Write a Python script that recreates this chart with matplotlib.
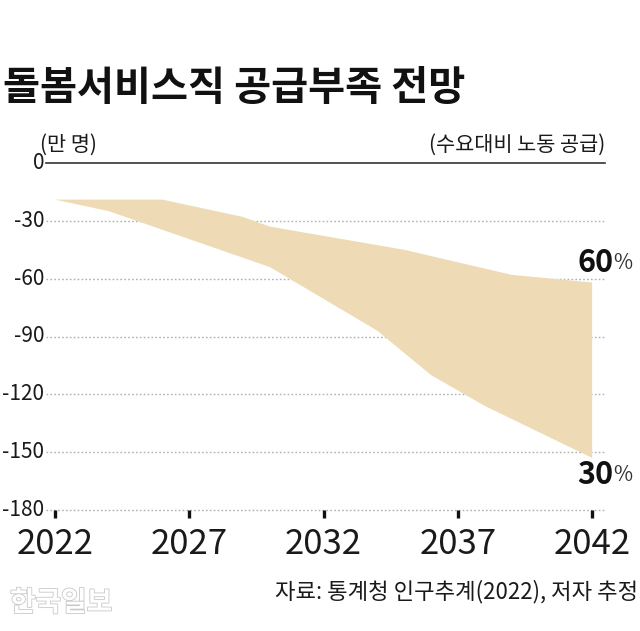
import matplotlib.pyplot as plt
import matplotlib.patheffects as pe

plt.rcParams['font.family'] = ['Noto Sans CJK KR', 'DejaVu Sans']

# 돌봄서비스직 공급부족 (만 명) - 수요대비 노동 공급 60% / 30%
years_60 = [2022, 2026, 2029, 2030, 2035, 2039, 2042]
short_60 = [-19, -19, -28, -33, -45, -58, -62]
years_30 = [2022, 2024, 2030, 2034, 2036, 2038, 2042]
short_30 = [-19, -25, -54, -87, -110, -126, -153]

x_ticks = [2022, 2027, 2032, 2037, 2042]
y_ticks = [0, -30, -60, -90, -120, -150, -180]

fill_color = '#eedbb6'

fig = plt.figure(figsize=(6.4, 6.31), dpi=100)
ax = fig.add_axes([46 / 640, 1 - 510 / 631, (605 - 46) / 640, (510 - 163) / 631])

# polygon: upper edge forward, lower edge back
poly_x = years_60 + years_30[::-1]
poly_y = short_60 + short_30[::-1]
ax.fill(poly_x, poly_y, color=fill_color, lw=0, zorder=2)

ax.set_xlim(2021.66, 2042.48)
ax.set_ylim(-180, 0)

for v in y_ticks[1:]:
    ax.axhline(v, color='#b0b0b0', lw=1, ls=(0, (1.2, 1.6)), zorder=1, clip_on=False)
ax.axhline(0, color='#333333', lw=1.2, zorder=3, clip_on=False)

for s in ax.spines.values():
    s.set_visible(False)

ax.set_xticks(x_ticks)
ax.set_xticklabels([str(y) for y in x_ticks], fontsize=25, fontweight='light', color='#1a1a1a')
ax.tick_params(axis='x', length=6, width=2.4, color='#111111', pad=6)
ax.set_yticks([])

for v in y_ticks:
    ax.text(2021.6, v, str(v), ha='right', va='center', fontsize=15,
            fontweight='light', color='#1a1a1a')

ax.text(2021.45, 4, '(만 명)', ha='left', va='bottom', fontsize=15,
        fontweight='light', color='#1a1a1a')
ax.text(2042.48, 4, '(수요대비 노동 공급)', ha='right', va='bottom', fontsize=15,
        fontweight='light', color='#1a1a1a')

# end labels
for val, lab, off in [(short_60[-1], '60', 14), (short_30[-1], '30', -12)]:
    ax.annotate(lab, (years_60[-1], val), xytext=(-10.5, off), textcoords='offset points',
                ha='left', va='center', fontsize=22, fontweight='bold', color='#111111',
                annotation_clip=False)
    ax.annotate('%', (years_60[-1], val), xytext=(15.5, off), textcoords='offset points',
                ha='left', va='center', fontsize=15, fontweight='light', color='#333333',
                annotation_clip=False)

fig.text(3 / 640, 1 - 88 / 631, '돌봄서비스직 공급부족 전망', ha='left', va='center',
         fontsize=29, fontweight='black', color='#111111')

fig.text(638 / 640, 1 - 592 / 631, '자료: 통계청 인구추계(2022), 저자 추정', ha='right',
         va='center', fontsize=16, fontweight='light', color='#1a1a1a')

fig.text(10 / 640, 1 - 603 / 631, '한국일보', ha='left', va='center', fontsize=20,
         fontweight='bold', color='white',
         path_effects=[pe.Stroke(linewidth=1.2, foreground='#c8c8c8'), pe.Normal()])

fig.savefig('out.png', dpi=100, facecolor='white')
